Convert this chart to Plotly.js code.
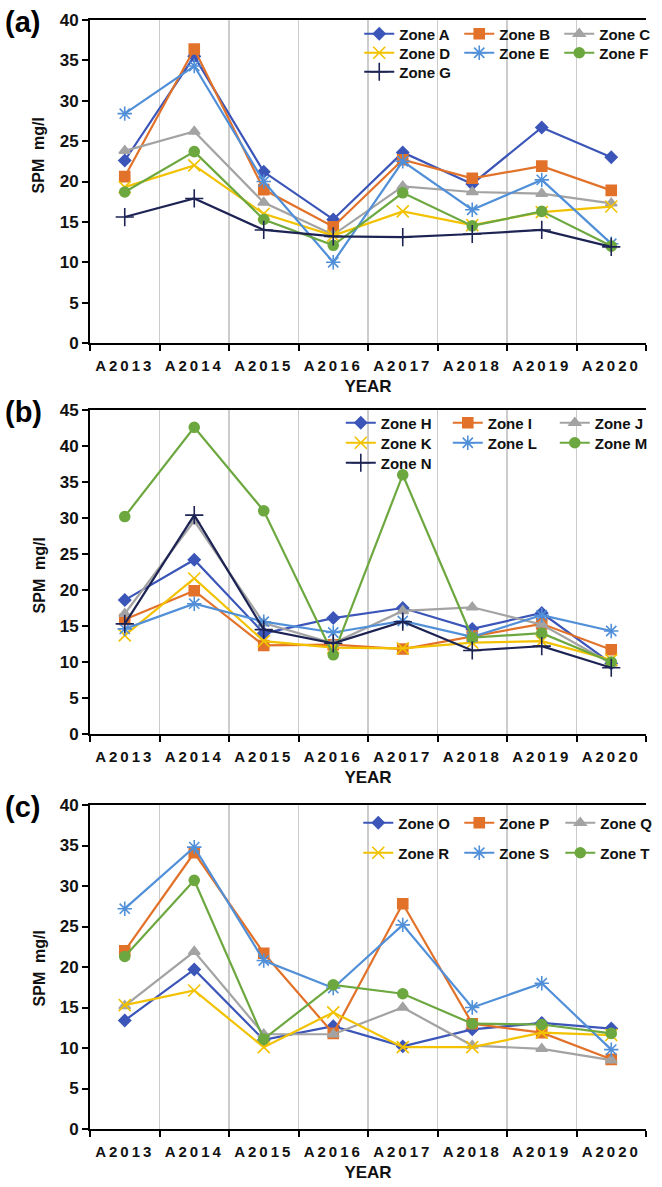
<!DOCTYPE html>
<html>
<head>
<meta charset="utf-8">
<script src="https://cdn.plot.ly/plotly-3.0.1.min.js"></script>
<style>
  html, body { margin: 0; padding: 0; background: #fff; }
  #chart { width: 662px; height: 1187px; }
  .xtick text, .x2tick text, .x3tick text { letter-spacing: 3px; }
</style>
</head>
<body>
<div id="chart"></div>
<script>
// ---------- data ----------
const years = ['A2013', 'A2014', 'A2015', 'A2016', 'A2017', 'A2018', 'A2019', 'A2020'];

// panel (a)
const zoneA = [22.6, 35.5, 21.2, 15.3, 23.6, 19.7, 26.7, 23.0];
const zoneB = [20.6, 36.4, 19.0, 14.4, 22.7, 20.4, 21.9, 18.9];
const zoneC = [23.8, 26.2, 17.4, 13.4, 19.4, 18.7, 18.5, 17.3];
const zoneD = [19.3, 22.0, 16.0, 13.3, 16.3, 14.6, 16.2, 16.9];
const zoneE = [28.4, 34.3, 20.0, 10.0, 22.5, 16.5, 20.2, 12.3];
const zoneF = [18.7, 23.7, 15.3, 12.1, 18.6, 14.5, 16.3, 12.0];
const zoneG = [15.6, 17.9, 14.0, 13.2, 13.1, 13.5, 14.0, 11.9];

// panel (b)
const zoneH = [18.6, 24.2, 14.0, 16.1, 17.5, 14.6, 16.8, 9.8];
const zoneI = [15.9, 19.9, 12.3, 12.4, 11.8, 13.6, 15.3, 11.7];
const zoneJ = [16.7, 29.6, 15.4, 12.6, 17.1, 17.6, 15.2, 9.8];
const zoneK = [13.7, 21.6, 12.9, 12.0, 11.9, 12.7, 12.9, 10.3];
const zoneL = [14.6, 18.1, 15.6, 14.1, 15.7, 13.5, 16.5, 14.3];
const zoneM = [30.2, 42.6, 31.0, 11.0, 36.0, 13.4, 14.0, 10.0];
const zoneN = [15.3, 30.4, 14.5, 12.6, 15.6, 11.6, 12.2, 9.2];

// panel (c)
const zoneO = [13.4, 19.7, 11.0, 12.7, 10.2, 12.3, 13.1, 12.4];
const zoneP = [22.0, 34.1, 21.7, 11.8, 27.8, 13.0, 11.9, 8.6];
const zoneQ = [15.2, 21.9, 11.7, 11.7, 15.0, 10.3, 9.9, 8.5];
const zoneR = [15.3, 17.1, 10.1, 14.4, 10.1, 10.1, 11.9, 11.6];
const zoneS = [27.2, 34.8, 20.8, 17.4, 25.2, 15.0, 18.0, 9.8];
const zoneT = [21.3, 30.7, 11.1, 17.8, 16.7, 13.0, 12.9, 11.8];

const panelLabels = ['(a)', '(b)', '(c)'];
const yTitle = 'SPM  mg/l';
const xTitle = 'YEAR';

// ---------- styles ----------
const st = {
  blue:   {color: '#3B55B8', symbol: 'diamond', size: 9},
  orange: {color: '#E2722A', symbol: 'square', size: 10},
  gray:   {color: '#A3A3A3', symbol: 'triangle-up', size: 10},
  yellow: {color: '#F2C200', symbol: 'x-thin', size: 12},
  lblue:  {color: '#5190D8', symbol: 'asterisk-open', size: 12},
  green:  {color: '#6CA83F', symbol: 'circle', size: 10},
  navy:   {color: '#1D2454', symbol: 'cross-thin', size: 13}
};

function tr(name, y, s, ax, leg) {
  return {
    type: 'scatter', mode: 'lines+markers', name: name,
    x: years, y: y, xaxis: 'x' + ax, yaxis: 'y' + ax, legend: leg,
    line: {color: s.color, width: 2.2},
    marker: {color: s.color, symbol: s.symbol, size: s.size,
             line: {color: s.color, width: 1.6}}
  };
}

const data = [
  tr('Zone A', zoneA, st.blue, '', 'legend'),
  tr('Zone B', zoneB, st.orange, '', 'legend'),
  tr('Zone C', zoneC, st.gray, '', 'legend'),
  tr('Zone D', zoneD, st.yellow, '', 'legend2'),
  tr('Zone E', zoneE, st.lblue, '', 'legend2'),
  tr('Zone F', zoneF, st.green, '', 'legend2'),
  tr('Zone G', zoneG, st.navy, '', 'legend3'),

  tr('Zone H', zoneH, st.blue, '2', 'legend4'),
  tr('Zone I', zoneI, st.orange, '2', 'legend4'),
  tr('Zone J', zoneJ, st.gray, '2', 'legend4'),
  tr('Zone K', zoneK, st.yellow, '2', 'legend5'),
  tr('Zone L', zoneL, st.lblue, '2', 'legend5'),
  tr('Zone M', zoneM, st.green, '2', 'legend5'),
  tr('Zone N', zoneN, st.navy, '2', 'legend6'),

  tr('Zone O', zoneO, st.blue, '3', 'legend7'),
  tr('Zone P', zoneP, st.orange, '3', 'legend7'),
  tr('Zone Q', zoneQ, st.gray, '3', 'legend7'),
  tr('Zone R', zoneR, st.yellow, '3', 'legend8'),
  tr('Zone S', zoneS, st.lblue, '3', 'legend8'),
  tr('Zone T', zoneT, st.green, '3', 'legend8')
];

// ---------- layout ----------
const W = 662, H = 1187, L = 90, R = 0;
const PW = W - L - R;
const px = v => (v - L) / PW;      // pixel x -> paper x
const py = v => 1 - v / H;         // pixel y -> paper y

const fam = 'Liberation Sans, Arial, sans-serif';

function xax(anchor) {
  return {
    type: 'category', anchor: anchor, range: [-0.5, 7.5],
    tickson: 'boundaries', ticks: 'outside', ticklen: 6, tickwidth: 2, tickcolor: '#000',
    showline: true, linecolor: '#000', linewidth: 2, mirror: true,
    showgrid: true, gridcolor: '#CCCCCC', gridwidth: 1.2,
    tickfont: {family: fam, size: 15, color: '#111', weight: 'bold'},
    ticklabelstandoff: 8,
    title: {text: xTitle, standoff: 7, font: {family: fam, size: 17, color: '#111', weight: 'bold'}},
    automargin: false, fixedrange: true
  };
}
function yax(anchor, top, bottom, maxv) {
  return {
    anchor: anchor, domain: [py(bottom), py(top)], range: [0, maxv], dtick: 5,
    ticks: 'outside', ticklen: 6, tickwidth: 2, tickcolor: '#000',
    showline: true, linecolor: '#000', linewidth: 2,
    showgrid: false, zeroline: false,
    tickfont: {family: fam, size: 17, color: '#111', weight: 'bold'},
    automargin: false, fixedrange: true
  };
}

function leg(xPix, yPix, ew) {
  return {
    orientation: 'h', xref: 'paper', yref: 'paper',
    x: px(xPix), y: py(yPix), xanchor: 'left', yanchor: 'middle',
    entrywidth: ew, entrywidthmode: 'pixels',
    font: {family: fam, size: 15, color: '#111', weight: 'bold'},
    bgcolor: 'rgba(0,0,0,0)', itemclick: false, itemdoubleclick: false,
    traceorder: 'normal'
  };
}

const layout = {
  width: W, height: H,
  margin: {l: L, r: R, t: 0, b: 0},
  paper_bgcolor: '#fff', plot_bgcolor: '#fff',
  showlegend: true,
  xaxis:  xax('y'),
  yaxis:  yax('x', 20, 343, 40),
  xaxis2: xax('y2'),
  yaxis2: yax('x2', 410, 734, 45),
  xaxis3: xax('y3'),
  yaxis3: yax('x3', 805, 1129, 40),
  legend:  leg(367, 34, 55),
  legend2: leg(367, 53, 55),
  legend3: leg(367, 72, 55),
  legend4: leg(348, 423, 62),
  legend5: leg(348, 443, 62),
  legend6: leg(348, 463, 62),
  legend7: leg(366, 823, 56),
  legend8: leg(366, 853, 56),
  annotations: [
    {text: panelLabels[0], xref: 'paper', yref: 'paper', x: px(1), y: py(22), xanchor: 'left', yanchor: 'middle',
     showarrow: false, font: {family: fam, size: 29, color: '#000', weight: 'bold'}},
    {text: panelLabels[1], xref: 'paper', yref: 'paper', x: px(1), y: py(412), xanchor: 'left', yanchor: 'middle',
     showarrow: false, font: {family: fam, size: 29, color: '#000', weight: 'bold'}},
    {text: panelLabels[2], xref: 'paper', yref: 'paper', x: px(1), y: py(807), xanchor: 'left', yanchor: 'middle',
     showarrow: false, font: {family: fam, size: 29, color: '#000', weight: 'bold'}},
    {text: yTitle, xref: 'paper', yref: 'paper', x: px(38), y: py(155), textangle: -90, xanchor: 'center', yanchor: 'middle',
     showarrow: false, font: {family: fam, size: 16, color: '#111', weight: 'bold'}},
    {text: yTitle, xref: 'paper', yref: 'paper', x: px(38), y: py(575), textangle: -90, xanchor: 'center', yanchor: 'middle',
     showarrow: false, font: {family: fam, size: 16, color: '#111', weight: 'bold'}},
    {text: yTitle, xref: 'paper', yref: 'paper', x: px(38), y: py(968), textangle: -90, xanchor: 'center', yanchor: 'middle',
     showarrow: false, font: {family: fam, size: 16, color: '#111', weight: 'bold'}}
  ]
};

Plotly.newPlot('chart', data, layout, {displayModeBar: false, staticPlot: true});
</script>
</body>
</html>
